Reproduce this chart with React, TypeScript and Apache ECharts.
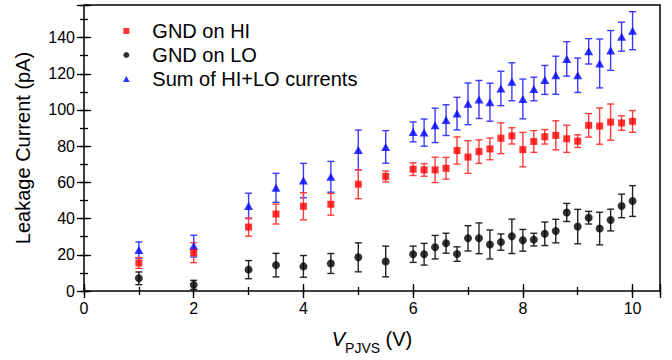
import React, { useEffect, useRef } from "react";
import * as echarts from "echarts";

const voltages = [1, 2, 3, 3.5, 4, 4.5, 5, 5.5, 6, 6.2, 6.4, 6.6, 6.8, 7, 7.2, 7.4, 7.6, 7.8, 8, 8.2, 8.4, 8.6, 8.8, 9, 9.2, 9.4, 9.6, 9.8, 10];

const hiValues = [15.5, 21.2, 35.3, 42.5, 46.8, 47.9, 59, 63.3, 67.3, 66.9, 66.9, 67.8, 77.6, 74, 77, 78.5, 84.4, 85.7, 78.1, 82.6, 85.2, 86, 84.1, 82.8, 91.5, 91.1, 93.3, 92.8, 93.7];
const hiErrors = [3, 5.5, 5, 5.5, 7.5, 6, 8, 3, 3.5, 3.5, 7, 6, 7.5, 9, 6.5, 6, 8.5, 4.5, 9.5, 6, 4, 8, 7.5, 3.5, 6.5, 10, 10, 4, 6];

const loValues = [7, 3.4, 11.8, 14.3, 13.6, 15.2, 18.6, 16.3, 20.3, 20.3, 24.2, 26.4, 20.4, 29.1, 29.1, 25.7, 27, 30.2, 28, 28.4, 31.6, 33.1, 43.4, 35.6, 40.5, 34.5, 39.2, 47, 49.7];
const loErrors = [3.5, 2.5, 5, 6.5, 6, 5.5, 8, 8.5, 4.5, 6, 6.5, 5.5, 4, 7, 8.5, 8, 4.5, 9.5, 6, 3.5, 6.5, 6.5, 5, 9.5, 3.5, 9, 6, 6.5, 8.5];

const sumValues = [22.6, 24.8, 47, 57, 61, 63.1, 77.9, 79.6, 87.9, 87.5, 91.5, 94.4, 98, 103.4, 105.8, 104.3, 111.9, 115.6, 106.1, 111.6, 116.6, 119.2, 128.2, 119.2, 132.4, 125.7, 132.9, 140.5, 143.8];
const sumErrors = [4.5, 6, 7, 8, 9.5, 8.5, 11, 9, 5.5, 7.5, 9.5, 8.5, 9, 11.5, 10.5, 10.5, 9.5, 10.5, 11, 6.5, 8, 10.5, 9.5, 9.5, 7, 13.5, 11, 8, 10.5];

const seriesNames = ["GND on HI", "GND on LO", "Sum of HI+LO currents"];
const xTickLabels = ["0", "2", "4", "6", "8", "10"];
const yTickLabels = ["0", "20", "40", "60", "80", "100", "120", "140"];

const FONT = "'Liberation Sans', Arial, sans-serif";

function pairs(vals: number[]) {
  return voltages.map((x, i) => [x, vals[i]]);
}
function errPairs(vals: number[], errs: number[]) {
  return voltages.map((x, i) => [x, vals[i] - errs[i], vals[i] + errs[i]]);
}

function errorSeries(name: string, vals: number[], errs: number[], color: string) {
  return {
    type: "custom",
    name,
    xAxisIndex: 0,
    yAxisIndex: 0,
    data: errPairs(vals, errs),
    silent: true,
    z: 2,
    renderItem: (params: any, api: any) => {
      const x = api.value(0);
      const lo = api.coord([x, api.value(1)]);
      const hi = api.coord([x, api.value(2)]);
      const hw = 3.5;
      const style = { stroke: color, lineWidth: 1.4 };
      return {
        type: "group",
        children: [
          { type: "line", shape: { x1: lo[0], y1: lo[1], x2: hi[0], y2: hi[1] }, style },
          { type: "line", shape: { x1: lo[0] - hw, y1: lo[1], x2: lo[0] + hw, y2: lo[1] }, style },
          { type: "line", shape: { x1: hi[0] - hw, y1: hi[1], x2: hi[0] + hw, y2: hi[1] }, style },
        ],
      };
    },
  };
}

export default function App() {
  const ref = useRef<HTMLDivElement>(null);
  useEffect(() => {
    if (!ref.current) return;
    const chart = echarts.init(ref.current, null, { renderer: "svg" });
    const tickStyle = { color: "#000", width: 1.3 };
    const xBase = { type: "value", min: 0, max: 10.5, splitLine: { show: false }, axisLine: { show: false } };
    const yBase = { type: "value", min: 0, max: 158, splitLine: { show: false }, axisLine: { show: false } };
    const option: any = {
      animation: false,
      textStyle: { fontFamily: FONT },
      grid: { left: 84, right: 12, top: 5, bottom: 64, show: true, borderColor: "#000", borderWidth: 1.5, containLabel: false },
      legend: {
        orient: "vertical",
        left: 118,
        top: 16,
        itemWidth: 42,
        itemHeight: 6,
        itemGap: 4,
        symbolKeepAspect: true,
        selectedMode: false,
        textStyle: { fontSize: 20, color: "#000", fontFamily: FONT, lineHeight: 20 },
        data: [
          { name: seriesNames[0], icon: "path://M0,0H1V1H0Z" },
          { name: seriesNames[1], icon: "circle" },
          { name: seriesNames[2], icon: "path://M0.5,0L1,0.9H0Z" },
        ],
      },
      xAxis: [
        {
          ...xBase,
          position: "bottom",
          interval: 2,
          axisTick: { inside: true, length: 7, lineStyle: tickStyle },
          axisLabel: {
            color: "#000",
            fontSize: 16,
            margin: 9,
            fontFamily: FONT,
            formatter: (v: number) => (xTickLabels.includes(String(v)) ? String(v) : ""),
          },
          name: "{v|V}{s|PJVS}{n| (V)}",
          nameLocation: "middle",
          nameGap: 34,
          nameTextStyle: {
            rich: {
              v: { fontSize: 20, fontStyle: "italic", color: "#000", fontFamily: FONT, lineHeight: 28 },
              s: { fontSize: 14, color: "#000", fontFamily: FONT, lineHeight: 14, padding: [18, 0, 0, 0] },
              n: { fontSize: 20, color: "#000", fontFamily: FONT, lineHeight: 28 },
            },
          },
        },
        { ...xBase, position: "bottom", interval: 1, axisTick: { inside: true, length: 4, lineStyle: tickStyle }, axisLabel: { show: false } },
        { ...xBase, position: "top", interval: 2, axisTick: { inside: true, length: 7, lineStyle: tickStyle }, axisLabel: { show: false } },
        { ...xBase, position: "top", interval: 1, axisTick: { inside: true, length: 4, lineStyle: tickStyle }, axisLabel: { show: false } },
      ],
      yAxis: [
        {
          ...yBase,
          position: "left",
          interval: 20,
          axisTick: { inside: true, length: 7, lineStyle: tickStyle },
          axisLabel: {
            color: "#000",
            fontSize: 16,
            margin: 9,
            fontFamily: FONT,
            formatter: (v: number) => (yTickLabels.includes(String(v)) ? String(v) : ""),
          },
          name: "Leakage Current (pA)",
          nameLocation: "middle",
          nameGap: 51,
          nameTextStyle: { fontSize: 20, color: "#000", fontFamily: FONT },
        },
        { ...yBase, position: "left", interval: 10, axisTick: { inside: true, length: 4, lineStyle: tickStyle }, axisLabel: { show: false } },
        { ...yBase, position: "right", interval: 20, axisTick: { inside: true, length: 7, lineStyle: tickStyle }, axisLabel: { show: false } },
        { ...yBase, position: "right", interval: 10, axisTick: { inside: true, length: 4, lineStyle: tickStyle }, axisLabel: { show: false } },
      ],
      series: [
        errorSeries("Sum err", sumValues, sumErrors, "#3a3aff"),
        {
          type: "scatter",
          name: seriesNames[2],
          data: pairs(sumValues),
          symbol: "triangle",
          symbolSize: [9, 8],
          itemStyle: { color: "#0000ff" },
          z: 3,
        },
        errorSeries("HI err", hiValues, hiErrors, "#ff3b3b"),
        {
          type: "scatter",
          name: seriesNames[0],
          data: pairs(hiValues),
          symbol: "rect",
          symbolSize: 7,
          itemStyle: { color: "#ff0000" },
          z: 3,
        },
        errorSeries("LO err", loValues, loErrors, "#222222"),
        {
          type: "scatter",
          name: seriesNames[1],
          data: pairs(loValues),
          symbol: "circle",
          symbolSize: 8,
          itemStyle: { color: "#000000" },
          z: 3,
        },
      ],
    };
    chart.setOption(option);
    return () => chart.dispose();
  }, []);
  return (
    <div
      ref={ref}
      style={{ position: "absolute", left: 0, top: 0, width: 672, height: 360, background: "#fff" }}
    />
  );
}
